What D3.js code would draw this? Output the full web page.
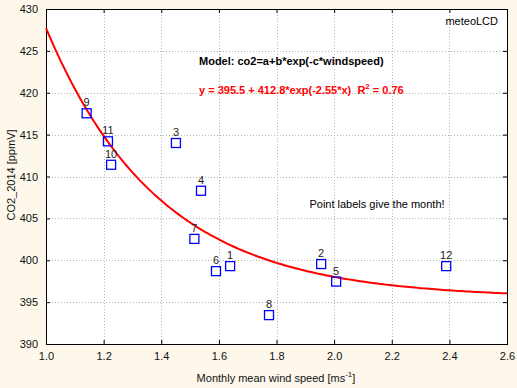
<!DOCTYPE html>
<html>
<head>
<meta charset="utf-8">
<script src="https://cdn.jsdelivr.net/npm/d3@7"></script>
<style>
  body { margin: 0; background: #fdf8eb; }
  text { font-family: Arial, "Liberation Sans", sans-serif; }
</style>
</head>
<body>
<svg id="chart" width="517" height="388"></svg>
<script>
// monthly means 2014
const months = [1, 2, 3, 4, 5, 6, 7, 8, 9, 10, 11, 12];
const windSpeed = [1.639, 1.955, 1.451, 1.538, 2.007, 1.59, 1.515, 1.774, 1.141, 1.226, 1.215, 2.389];
const co2 = [399.3, 399.55, 414.0, 408.3, 397.45, 398.7, 402.55, 393.45, 417.55, 411.4, 414.2, 399.3];

const xTicks = [1.0, 1.2, 1.4, 1.6, 1.8, 2.0, 2.2, 2.4, 2.6];
const yTicks = [390, 395, 400, 405, 410, 415, 420, 425, 430];

// fitted model co2 = a + b*exp(-c*x)
const fitA = 395.5, fitB = 412.8, fitC = 2.55;

const margin = { top: 9, right: 10, bottom: 44, left: 46 };
const width = 517 - margin.left - margin.right;
const height = 388 - margin.top - margin.bottom;

const svg = d3.select("#chart");
const g = svg.append("g").attr("transform", `translate(${margin.left},${margin.top})`);

const x = d3.scaleLinear().domain([1.0, 2.6]).range([0, width]);
const y = d3.scaleLinear().domain([390, 430]).range([height, 0]);

g.append("rect")
  .attr("width", width)
  .attr("height", height)
  .attr("fill", "#fff");

// grid
g.selectAll(".gx")
  .data(xTicks.slice(1, -1))
  .enter()
  .append("line")
  .attr("x1", d => Math.round(x(d)) + 0.5)
  .attr("x2", d => Math.round(x(d)) + 0.5)
  .attr("y1", 0)
  .attr("y2", height)
  .attr("stroke", "#b4b4b4")
  .attr("stroke-dasharray", "1,2");
g.selectAll(".gy")
  .data(yTicks.slice(1, -1))
  .enter()
  .append("line")
  .attr("y1", d => Math.round(y(d)) + 0.5)
  .attr("y2", d => Math.round(y(d)) + 0.5)
  .attr("x1", 0)
  .attr("x2", width)
  .attr("stroke", "#b4b4b4")
  .attr("stroke-dasharray", "1,2");

// axes, ticks pointing inward on all four sides
const fmtX = d3.format(".1f");
const styleAxis = sel => {
  sel.select(".domain").remove();
  sel.selectAll("line").attr("stroke", "#000");
  sel.selectAll("text").style("font-size", "11px").attr("fill", "#111");
};
g.append("g")
  .attr("transform", `translate(0,${height})`)
  .call(d3.axisBottom(x).tickValues(xTicks).tickFormat(fmtX).tickSizeInner(-4).tickPadding(8))
  .call(styleAxis);
g.append("g")
  .call(d3.axisLeft(y).tickValues(yTicks).tickSizeInner(-4).tickPadding(8))
  .call(styleAxis);
g.append("g")
  .call(d3.axisTop(x).tickValues(xTicks).tickSizeInner(-4).tickFormat(""))
  .call(styleAxis);
g.append("g")
  .attr("transform", `translate(${width},0)`)
  .call(d3.axisRight(y).tickValues(yTicks).tickSizeInner(-4).tickFormat(""))
  .call(styleAxis);

g.append("rect")
  .attr("x", 0.5)
  .attr("y", 0.5)
  .attr("width", width)
  .attr("height", height)
  .attr("fill", "none")
  .attr("stroke", "#000");

// fitted curve
const curveX = d3.range(1.0, 2.6001, 0.01);
const line = d3.line()
  .x(d => x(d))
  .y(d => y(fitA + fitB * Math.exp(-fitC * d)));
g.append("path")
  .datum(curveX)
  .attr("d", line)
  .attr("fill", "none")
  .attr("stroke", "#ff0000")
  .attr("stroke-width", 2);

// points
const points = months.map((m, i) => ({ month: m, ws: windSpeed[i], co2: co2[i] }));
g.selectAll(".pt")
  .data(points)
  .enter()
  .append("rect")
  .attr("x", d => x(d.ws) - 4.5)
  .attr("y", d => y(d.co2) - 4.5)
  .attr("width", 9)
  .attr("height", 9)
  .attr("fill", "none")
  .attr("stroke", "#0000ff")
  .attr("stroke-width", 1.3);
g.selectAll(".lbl")
  .data(points)
  .enter()
  .append("text")
  .attr("x", d => x(d.ws))
  .attr("y", d => y(d.co2) - 7)
  .attr("text-anchor", "middle")
  .style("font-size", "11px")
  .attr("fill", "#222")
  .text(d => d.month);

// annotations
svg.append("text")
  .attr("x", 199)
  .attr("y", 65)
  .style("font-size", "11px")
  .style("font-weight", "bold")
  .attr("fill", "#000")
  .text("Model: co2=a+b*exp(-c*windspeed)");

const eq = svg.append("text")
  .attr("x", 199)
  .attr("y", 94)
  .style("font-size", "11px")
  .style("font-weight", "bold")
  .style("white-space", "pre")
  .attr("fill", "#ff0000");
eq.append("tspan").text(`y = ${fitA} + ${fitB}*exp(-${fitC}*x)\u00a0 R`);
eq.append("tspan").attr("dy", -5).style("font-size", "8px").text("2");
eq.append("tspan").attr("dy", 5).text(" = 0.76");

svg.append("text")
  .attr("x", 498)
  .attr("y", 25)
  .attr("text-anchor", "end")
  .style("font-size", "11px")
  .attr("fill", "#000")
  .text("meteoLCD");

svg.append("text")
  .attr("x", 377)
  .attr("y", 208)
  .attr("text-anchor", "middle")
  .style("font-size", "11px")
  .attr("fill", "#000")
  .text("Point labels give the month!");

svg.append("text")
  .attr("transform", "translate(15,175) rotate(-90)")
  .attr("text-anchor", "middle")
  .style("font-size", "11px")
  .attr("fill", "#111")
  .text("CO2_2014 [ppmV]");

const xl = svg.append("text")
  .attr("x", 276)
  .attr("y", 382)
  .attr("text-anchor", "middle")
  .style("font-size", "11px")
  .attr("fill", "#111");
xl.append("tspan").text("Monthly mean wind speed [ms");
xl.append("tspan").attr("dy", -5).style("font-size", "8px").text("-1");
xl.append("tspan").attr("dy", 5).text("]");
</script>
</body>
</html>
